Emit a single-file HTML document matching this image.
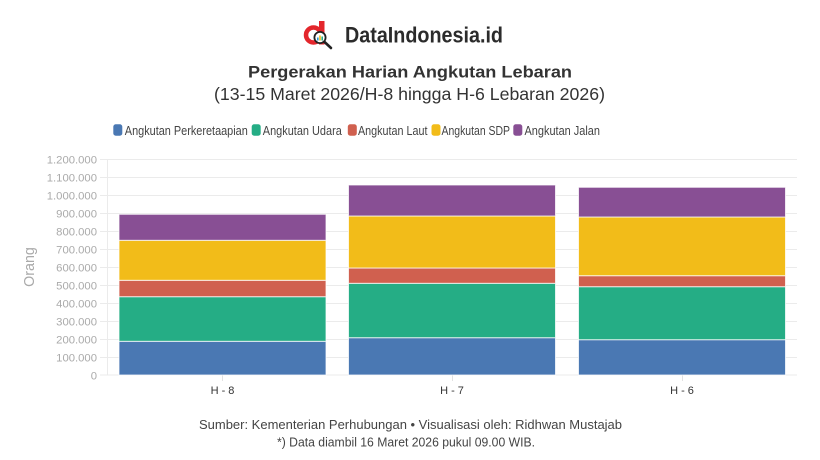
<!DOCTYPE html>
<html>
<head>
<meta charset="utf-8">
<style>
  html,body{margin:0;padding:0;background:#fff;}
  svg{display:block;}
  text{font-family:"Liberation Sans", Arial, sans-serif;}
</style>
</head>
<body>
<svg width="820" height="460" viewBox="0 0 820 460" xmlns="http://www.w3.org/2000/svg">
  <rect x="0" y="0" width="820" height="460" fill="#ffffff"/>

  <!-- Logo -->
  <g>
    <circle cx="313.5" cy="35" r="7.5" fill="none" stroke="#e3262c" stroke-width="4.5"/>
    <rect x="319" y="21" width="5.5" height="23.5" fill="#e3262c"/>
    <line x1="323.5" y1="41" x2="331" y2="48" stroke="#222" stroke-width="2.6" stroke-linecap="round"/>
    <circle cx="320" cy="37.5" r="5.6" fill="#fff" stroke="#222" stroke-width="1.8"/>
    <rect x="317" y="37.5" width="1.6" height="3" fill="#2a9bd7"/>
    <rect x="319.2" y="35.5" width="1.6" height="5" fill="#f2bb1a"/>
    <rect x="321.4" y="36.5" width="1.6" height="4" fill="#26ae86"/>
    <text x="345" y="42.5" font-size="22" font-weight="bold" fill="#2b2b2b" textLength="158" lengthAdjust="spacingAndGlyphs">DataIndonesia.id</text>
  </g>

  <!-- Titles -->
  <text x="248" y="77.5" font-size="17" font-weight="bold" fill="#333" textLength="324" lengthAdjust="spacingAndGlyphs">Pergerakan Harian Angkutan Lebaran</text>
  <text x="214" y="100" font-size="17.5" fill="#333" textLength="391" lengthAdjust="spacingAndGlyphs">(13-15 Maret 2026/H-8 hingga H-6 Lebaran 2026)</text>

  <!-- Legend -->
  <g font-size="12.5" fill="#444">
    <rect x="113.3" y="124.3" width="9" height="11.4" rx="2.5" fill="#4a78b3"/>
    <text x="124.8" y="135" textLength="123" lengthAdjust="spacingAndGlyphs">Angkutan Perkeretaapian</text>
    <rect x="251.7" y="124.3" width="9" height="11.4" rx="2.5" fill="#25ad85"/>
    <text x="262.8" y="135" textLength="79" lengthAdjust="spacingAndGlyphs">Angkutan Udara</text>
    <rect x="347.8" y="124.3" width="9" height="11.4" rx="2.5" fill="#d0604f"/>
    <text x="358" y="135" textLength="69.5" lengthAdjust="spacingAndGlyphs">Angkutan Laut</text>
    <rect x="431.5" y="124.3" width="9" height="11.4" rx="2.5" fill="#f2bc19"/>
    <text x="441.5" y="135" textLength="68.5" lengthAdjust="spacingAndGlyphs">Angkutan SDP</text>
    <rect x="513.3" y="124.3" width="9" height="11.4" rx="2.5" fill="#884f94"/>
    <text x="524.5" y="135" textLength="75.5" lengthAdjust="spacingAndGlyphs">Angkutan Jalan</text>
  </g>

  <!-- Gridlines -->
  <g stroke="#ebebeb" stroke-width="1">
    <line x1="100" y1="159.5" x2="797" y2="159.5"/>
    <line x1="100" y1="177.5" x2="797" y2="177.5"/>
    <line x1="100" y1="195.5" x2="797" y2="195.5"/>
    <line x1="100" y1="213.5" x2="797" y2="213.5"/>
    <line x1="100" y1="231.5" x2="797" y2="231.5"/>
    <line x1="100" y1="249.5" x2="797" y2="249.5"/>
    <line x1="100" y1="267.5" x2="797" y2="267.5"/>
    <line x1="100" y1="285.5" x2="797" y2="285.5"/>
    <line x1="100" y1="303.5" x2="797" y2="303.5"/>
    <line x1="100" y1="321.5" x2="797" y2="321.5"/>
    <line x1="100" y1="339.5" x2="797" y2="339.5"/>
    <line x1="100" y1="357.5" x2="797" y2="357.5"/>
    <line x1="100" y1="375" x2="797" y2="375"/>
    <line x1="107.5" y1="159" x2="107.5" y2="375"/>
  </g>
  <!-- x ticks -->
  <g stroke="#e2e2e2" stroke-width="1">
    <line x1="222.5" y1="375" x2="222.5" y2="381"/>
    <line x1="452.5" y1="375" x2="452.5" y2="381"/>
    <line x1="682.5" y1="375" x2="682.5" y2="381"/>
  </g>

  <!-- Y labels -->
  <g font-size="11.3" fill="#aaaaaa" text-anchor="end">
    <text x="97" y="163.5">1.200.000</text>
    <text x="97" y="181.5">1.100.000</text>
    <text x="97" y="199.5">1.000.000</text>
    <text x="97" y="217.5">900.000</text>
    <text x="97" y="235.5">800.000</text>
    <text x="97" y="253.5">700.000</text>
    <text x="97" y="271.5">600.000</text>
    <text x="97" y="289.5">500.000</text>
    <text x="97" y="307.5">400.000</text>
    <text x="97" y="325.5">300.000</text>
    <text x="97" y="343.5">200.000</text>
    <text x="97" y="361.5">100.000</text>
    <text x="97" y="379.5">0</text>
  </g>
  <text transform="translate(34,267) rotate(-90)" text-anchor="middle" font-size="14.3" fill="#aaaaaa">Orang</text>

  <!-- Bars -->
  <g stroke="#ffffff" stroke-width="1" stroke-opacity="0.75">
    <!-- H-8 -->
    <rect x="119" y="341.3" width="207" height="33.7" fill="#4a78b3"/>
    <rect x="119" y="296.7" width="207" height="44.6" fill="#25ad85"/>
    <rect x="119" y="280.3" width="207" height="16.4" fill="#d0604f"/>
    <rect x="119" y="240.3" width="207" height="40" fill="#f2bc19"/>
    <rect x="119" y="214.3" width="207" height="26" fill="#884f94"/>
    <!-- H-7 -->
    <rect x="348.5" y="337.7" width="207" height="37.3" fill="#4a78b3"/>
    <rect x="348.5" y="283.3" width="207" height="54.4" fill="#25ad85"/>
    <rect x="348.5" y="268" width="207" height="15.3" fill="#d0604f"/>
    <rect x="348.5" y="216" width="207" height="52" fill="#f2bc19"/>
    <rect x="348.5" y="185" width="207" height="31" fill="#884f94"/>
    <!-- H-6 -->
    <rect x="578.5" y="339.7" width="207" height="35.3" fill="#4a78b3"/>
    <rect x="578.5" y="286.7" width="207" height="53" fill="#25ad85"/>
    <rect x="578.5" y="275.7" width="207" height="11" fill="#d0604f"/>
    <rect x="578.5" y="217" width="207" height="58.7" fill="#f2bc19"/>
    <rect x="578.5" y="187.3" width="207" height="29.7" fill="#884f94"/>
  </g>

  <!-- X labels -->
  <g font-size="11" fill="#333" text-anchor="middle">
    <text x="222.5" y="394">H - 8</text>
    <text x="452" y="394">H - 7</text>
    <text x="682" y="394">H - 6</text>
  </g>

  <!-- Footer -->
  <text x="199" y="429" font-size="13" fill="#444" textLength="423" lengthAdjust="spacingAndGlyphs">Sumber: Kementerian Perhubungan • Visualisasi oleh: Ridhwan Mustajab</text>
  <text x="277" y="446.5" font-size="13" fill="#444" textLength="258" lengthAdjust="spacingAndGlyphs">*) Data diambil 16 Maret 2026 pukul 09.00 WIB.</text>
</svg>
</body>
</html>
